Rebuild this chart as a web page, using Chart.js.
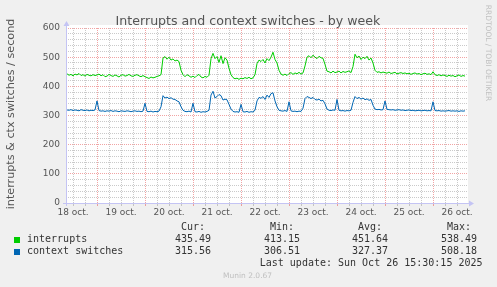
<!DOCTYPE html>
<html>
<head>
<meta charset="utf-8">
<script src="https://cdn.jsdelivr.net/npm/chart.js@4.4.0/dist/chart.umd.min.js"></script>
<style>
  html, body { margin: 0; padding: 0; background: #f0f0f0; }
  canvas { display: block; }
</style>
</head>
<body>
<canvas id="chart" width="497" height="287"></canvas>
<script>
// hourly samples, first one is 18 oct 09:00 (hour 0 = 19 oct 00:00)
const startHour = -15;

const dayLabels = ['18 oct.', '19 oct.', '20 oct.', '21 oct.', '22 oct.', '23 oct.', '24 oct.', '25 oct.', '26 oct.'];

const interrupts = [
  443, 438, 441, 436, 442, 439, 444, 437, 440, 435, 441, 438, 436, 440, 437,
  439, 442, 436, 440, 433, 435, 441, 437, 434, 439, 436, 432, 438, 440, 435, 437, 441, 436, 434, 438, 440, 436, 433, 437,
  433, 430, 427, 432, 429, 431, 434, 436, 440, 497, 502, 493, 500, 490, 494, 487, 490, 485, 455, 440, 433, 440, 436, 431,
  435, 430, 437, 441, 432, 429, 434, 431, 438, 495, 513, 495, 502, 482, 505, 478, 498, 490, 462, 440, 430, 426, 428, 424,
  428, 426, 430, 427, 431, 426, 429, 440, 478, 490, 485, 492, 480, 495, 488, 500, 517, 492, 480, 455, 442, 438, 442, 437,
  444, 447, 441, 446, 443, 448, 442, 446, 470, 500, 505, 498, 507, 500, 495, 503, 498, 496, 475, 452, 450, 446, 452, 447,
  449, 452, 446, 451, 448, 450, 453, 447, 468, 510, 498, 504, 492, 500, 495, 503, 490, 497, 480, 455, 448, 450, 446, 449,
  447, 445, 449, 444, 446, 448, 443, 445, 447, 444, 446, 443, 445, 441, 444, 446, 442, 444, 440, 443, 445, 441, 443, 440,
  450, 440, 437, 440, 436, 439, 437, 434, 438, 435, 437, 433, 436, 439, 434, 437, 435
];

const contextSwitches = [
  319, 318, 320, 317, 319, 318, 316, 320, 318, 317, 319, 316, 318, 317, 319,
  350, 317, 315, 316, 314, 316, 315, 317, 314, 316, 315, 313, 316, 315, 314, 316, 315, 313, 315, 316, 314, 315, 313, 315,
  342, 314, 313, 315, 312, 314, 313, 315, 330, 368, 360, 363, 358, 361, 356, 355, 350, 347, 330, 318, 314, 313, 315, 312,
  342, 313, 312, 314, 311, 313, 312, 314, 318, 370, 383, 360, 365, 372, 368, 353, 356, 354, 338, 322, 314, 312, 313, 311,
  338, 313, 312, 314, 311, 313, 312, 318, 350, 362, 359, 365, 355, 370, 362, 375, 378, 350, 330, 318, 316, 315, 317, 314,
  347, 316, 314, 315, 313, 315, 314, 325, 358, 365, 362, 358, 362, 355, 353, 356, 350, 352, 340, 322, 318, 317, 319, 318,
  355, 318, 316, 317, 315, 317, 316, 318, 345, 365, 358, 362, 356, 360, 354, 357, 352, 355, 335, 322, 320, 321, 319, 320,
  350, 321, 320, 319, 320, 318, 319, 320, 318, 319, 317, 318, 319, 317, 318, 316, 317, 318, 316, 317, 318, 316, 317, 316,
  347, 317, 316, 317, 315, 316, 315, 316, 317, 315, 316, 315, 316, 314, 316, 315, 316
];

const seriesNames = ['interrupts', 'context switches'];
const seriesColors = ['#00cc00', '#0066b3'];
const statHeaders = ['Cur:', 'Min:', 'Avg:', 'Max:'];
const interruptStats = ['435.49', '413.15', '451.64', '538.49'];
const contextStats = ['315.56', '306.51', '327.37', '508.18'];

const redGrid = 'rgba(230, 90, 90, 0.55)';
const grayGrid = 'rgba(150, 150, 150, 0.5)';
const axisColor = '#c4c4f4';

function toPoints(values) {
  return values.map((v, i) => ({ x: startHour + i, y: v }));
}

const muninPlugin = {
  id: 'munin',
  beforeDraw(chart) {
    const ctx = chart.ctx;
    const a = chart.chartArea;
    ctx.save();
    ctx.fillStyle = '#f0f0f0';
    ctx.fillRect(0, 0, chart.width, chart.height);
    ctx.fillStyle = '#ffffff';
    ctx.fillRect(a.left, a.top - 3, a.right - a.left, a.bottom - a.top + 3);
    ctx.restore();
  },
  afterDraw(chart) {
    const ctx = chart.ctx;
    const a = chart.chartArea;
    ctx.save();

    // axes with arrows
    ctx.strokeStyle = axisColor;
    ctx.fillStyle = axisColor;
    ctx.lineWidth = 1;
    ctx.beginPath();
    ctx.moveTo(a.left + 0.5, a.bottom + 3);
    ctx.lineTo(a.left + 0.5, a.top - 3);
    ctx.moveTo(a.left - 3, a.bottom + 0.5);
    ctx.lineTo(a.right + 2, a.bottom + 0.5);
    ctx.stroke();
    ctx.beginPath();
    ctx.moveTo(a.left - 2.5, a.top - 2);
    ctx.lineTo(a.left + 3.5, a.top - 2);
    ctx.lineTo(a.left + 0.5, a.top - 7);
    ctx.closePath();
    ctx.fill();
    ctx.beginPath();
    ctx.moveTo(a.right + 1, a.bottom - 2.5);
    ctx.lineTo(a.right + 1, a.bottom + 3.5);
    ctx.lineTo(a.right + 6, a.bottom + 0.5);
    ctx.closePath();
    ctx.fill();

    // title
    ctx.fillStyle = '#555';
    ctx.font = '12.6px "DejaVu Sans"';
    ctx.textAlign = 'center';
    ctx.textBaseline = 'alphabetic';
    ctx.fillText('Interrupts and context switches - by week', 248, 25);

    // vertical axis title
    ctx.save();
    ctx.translate(11.5, 114);
    ctx.rotate(-Math.PI / 2);
    ctx.font = '11.2px "DejaVu Sans"';
    ctx.textBaseline = 'middle';
    ctx.fillText('interrupts & ctx switches / second', 0, 0);
    ctx.restore();

    // rrdtool credit on the right
    ctx.save();
    ctx.translate(488, 53);
    ctx.rotate(Math.PI / 2);
    ctx.fillStyle = '#c0c0c0';
    ctx.font = '7.5px "DejaVu Sans"';
    ctx.textBaseline = 'middle';
    ctx.fillText('RRDTOOL / TOBI OETIKER', 0, 0);
    ctx.restore();

    // legend
    ctx.font = '10px "DejaVu Sans Mono"';
    ctx.textAlign = 'left';
    ctx.textBaseline = 'middle';
    ctx.fillStyle = '#333';
    const colX = [175, 264, 352, 441];
    statHeaders.forEach((h, i) => ctx.fillText(h, colX[i] + 6, 227.5));
    const rows = [interruptStats, contextStats];
    rows.forEach((stats, r) => {
      const y = 239.7 + r * 12.1;
      ctx.fillStyle = seriesColors[r];
      ctx.fillRect(14, Math.round(y) - 3, 6, 6);
      ctx.fillStyle = '#333';
      ctx.fillText(seriesNames[r], 27, y);
      stats.forEach((s, i) => ctx.fillText(s, colX[i], y));
    });
    ctx.textAlign = 'right';
    ctx.fillText('Last update: Sun Oct 26 15:30:15 2025', 482.5, 263.5);

    ctx.textAlign = 'left';
    ctx.fillStyle = '#c0c0c0';
    ctx.font = '7.5px "DejaVu Sans"';
    ctx.fillText('Munin 2.0.67', 223, 276);

    ctx.restore();
  }
};

const ctx = document.getElementById('chart').getContext('2d');
new Chart(ctx, {
  type: 'line',
  data: {
    datasets: [
      {
        label: seriesNames[0],
        data: toPoints(interrupts),
        borderColor: seriesColors[0],
        borderWidth: 1,
        pointRadius: 0,
        tension: 0,
        fill: false
      },
      {
        label: seriesNames[1],
        data: toPoints(contextSwitches),
        borderColor: seriesColors[1],
        borderWidth: 1,
        pointRadius: 0,
        tension: 0,
        fill: false
      }
    ]
  },
  options: {
    responsive: false,
    animation: false,
    devicePixelRatio: 1,
    layout: {
      padding: { left: 0, right: 29, top: 28, bottom: 0 }
    },
    plugins: {
      legend: { display: false },
      tooltip: { enabled: false }
    },
    scales: {
      x: {
        type: 'linear',
        min: -15.5,
        max: 185.5,
        afterBuildTicks: (scale) => {
          const ticks = [];
          for (let h = -12; h <= 180; h += 6) ticks.push({ value: h });
          scale.ticks = ticks;
        },
        afterFit: (scale) => { scale.height = 84; },
        grid: {
          color: (c) => (c.tick && c.tick.value % 24 === 0) ? redGrid : grayGrid,
          tickLength: 3
        },
        border: { display: false, dash: [1, 1] },
        ticks: {
          autoSkip: false,
          maxRotation: 0,
          minRotation: 0,
          padding: 1,
          color: '#555',
          font: { family: 'DejaVu Sans', size: 9 },
          callback: (value) => {
            if (((value % 24) + 24) % 24 !== 12) return '';
            return dayLabels[Math.floor(value / 24) + 1];
          }
        }
      },
      y: {
        min: 0,
        max: 600,
        afterBuildTicks: (scale) => {
          const ticks = [];
          for (let v = 0; v <= 600; v += 20) ticks.push({ value: v });
          scale.ticks = ticks;
        },
        afterFit: (scale) => { scale.width = 66; },
        grid: {
          color: (c) => (c.tick && c.tick.value % 100 === 0) ? redGrid : grayGrid,
          drawTicks: false
        },
        border: { display: false, dash: [1, 1] },
        ticks: {
          autoSkip: false,
          padding: 6,
          color: '#555',
          font: { family: 'DejaVu Sans', size: 9 },
          callback: (value) => value % 100 === 0 ? String(value) : ''
        }
      }
    }
  },
  plugins: [muninPlugin]
});
</script>
</body>
</html>
